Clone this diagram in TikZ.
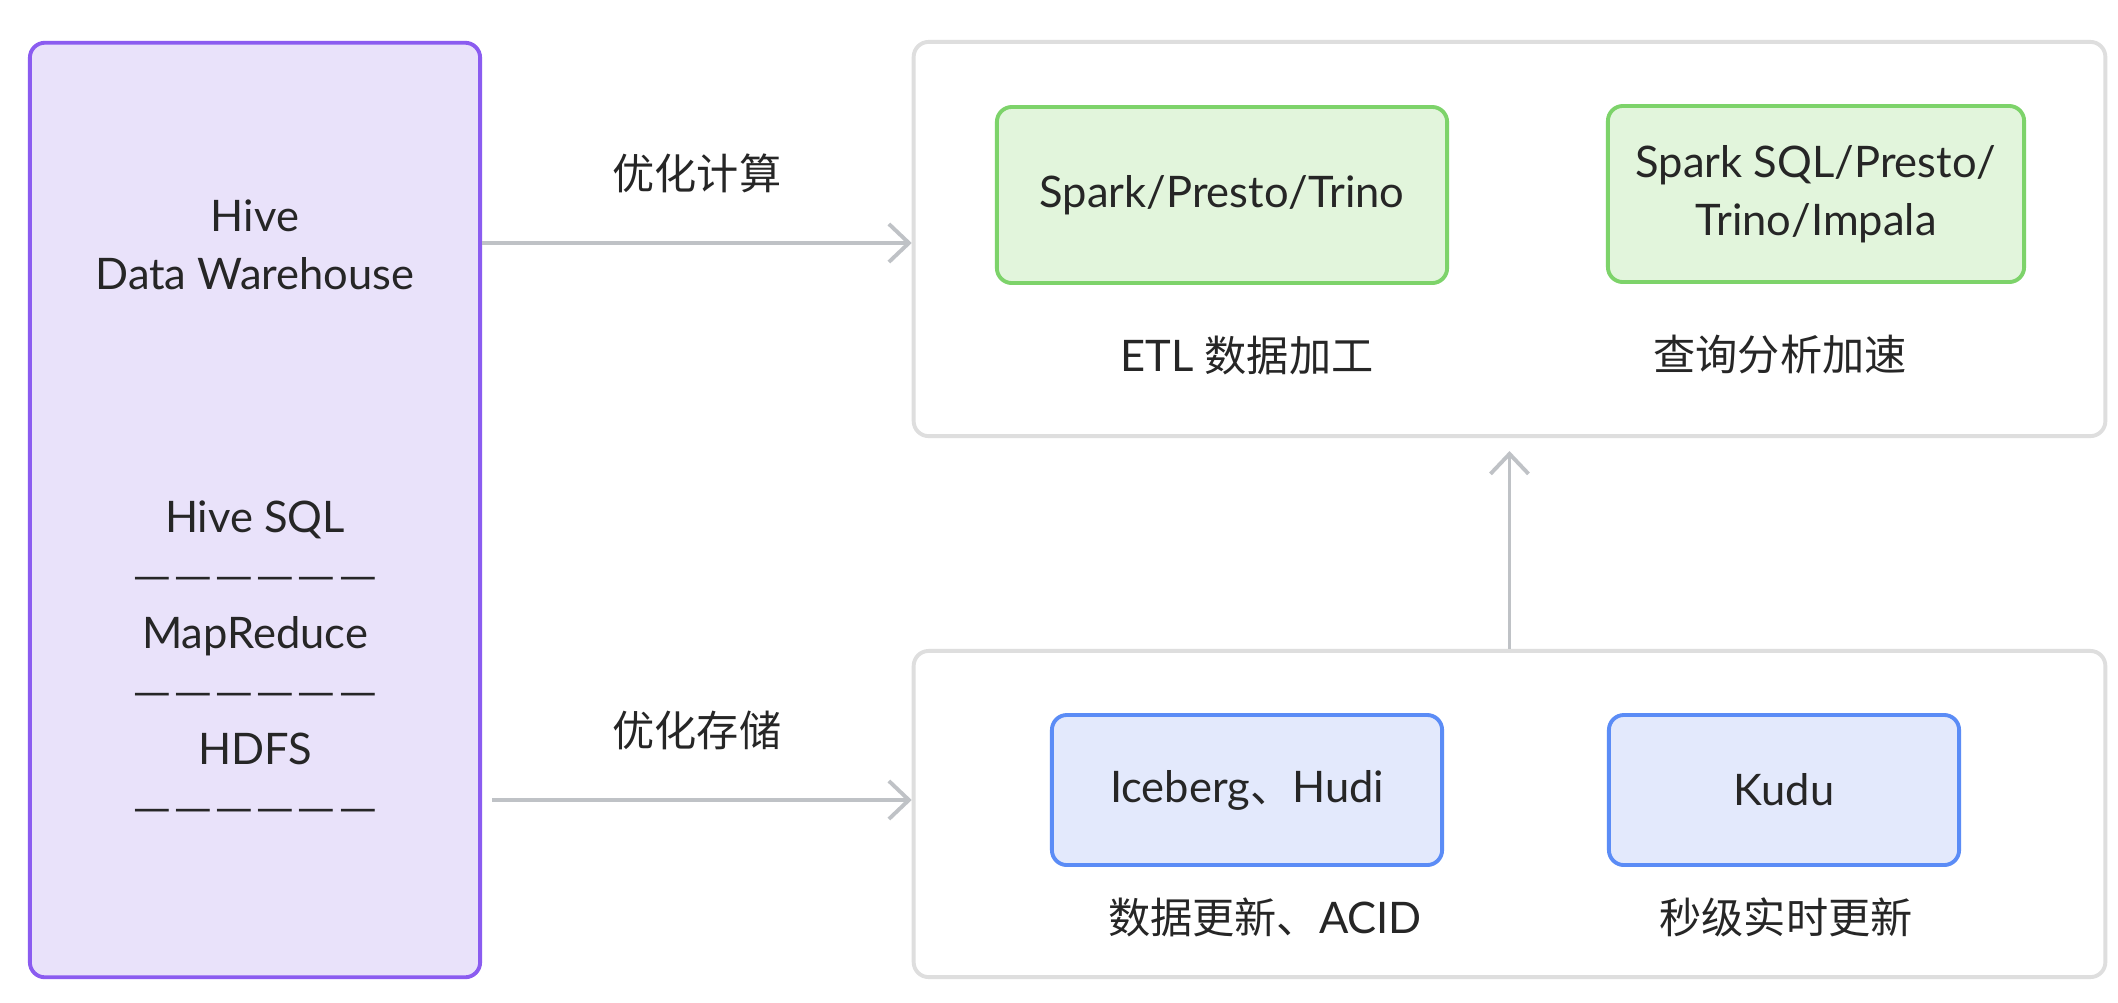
\documentclass[tikz,border=0pt]{standalone}
\usepackage{fontspec}
\setmainfont[Scale=1.03]{Lato}
\newfontfamily\cjk{Noto Sans CJK SC}
\usetikzlibrary{arrows.meta,positioning}

\definecolor{txt}{HTML}{262626}
\definecolor{hiveline}{HTML}{8B5CF0}
\definecolor{hivefill}{HTML}{E9E2FA}
\definecolor{greenline}{HTML}{7DD36A}
\definecolor{greenfill}{HTML}{E2F5DC}
\definecolor{blueline}{HTML}{5B8CF6}
\definecolor{bluefill}{HTML}{E3E9FC}
\definecolor{framegray}{HTML}{DEDEDE}
\definecolor{arrowgray}{HTML}{BFC2C6}

\newcommand{\dashrow}{{\cjk —\hspace{0.035cm}—\hspace{0.035cm}—\hspace{0.035cm}—\hspace{0.035cm}—\hspace{0.035cm}—}}

\begin{document}
\begin{tikzpicture}[
    x=0.01cm, y=-0.01cm,
    every node/.style={font=\fontsize{12}{16.5}\selectfont, text=txt, align=center},
    layer/.style={rectangle, draw=framegray, fill=white, line width=1.1pt, rounded corners=0.15cm, minimum width=11.91cm},
    hivebox/.style={rectangle, draw=hiveline, fill=hivefill, line width=1.1pt, rounded corners=0.15cm, minimum width=4.5cm, minimum height=9.34cm},
    engine/.style={rectangle, draw=greenline, fill=greenfill, line width=1.1pt, rounded corners=0.15cm, minimum width=4.5cm, minimum height=1.76cm},
    store/.style={rectangle, draw=blueline, fill=bluefill, line width=1.1pt, rounded corners=0.15cm, minimum width=3.9cm, minimum height=1.5cm},
    arrow/.style={-{Straight Barb[length=0.2cm, width=0.38cm]}, line width=1.1pt, draw=arrowgray}
]

\fill[white] (0,0) rectangle (2118,1002);
\useasboundingbox (0,0) rectangle (2118,1002);

% Hive side
\node[hivebox] (hive) at (255,510) {};
\node (hivetitle) at (255,245) {Hive\\Data Warehouse};
\node (hivestack) at (255,662) {Hive SQL\\\dashrow\\MapReduce\\\dashrow\\HDFS\\\dashrow};

% Compute layer
\node[layer, minimum height=3.94cm] (compute) at (1509.5,239) {};
\node[engine] (etl) at (1222,195) {Spark/Presto/Trino};
\node[engine, minimum width=4.16cm] (olap) at (1816,194) {Spark SQL/Presto/\\Trino/Impala};
\node (etlnote) at (1247,355) {ETL {\cjk 数据加工}};
\node (olapnote) at (1780,355) {\cjk 查询分析加速};

% Storage layer
\node[layer, minimum height=3.26cm] (storage) at (1509.5,814) {};
\node[store] (lake) at (1247,790) {Iceberg{\cjk 、}Hudi};
\node[store, minimum width=3.5cm] (kudu) at (1784,790) {Kudu};
\node (lakenote) at (1265,917) {{\cjk 数据更新、}ACID};
\node (kudunote) at (1786,917) {\cjk 秒级实时更新};

\draw[arrow] ([yshift=-0.04cm]compute.west -| hive.east) -- node[midway, yshift=0.7cm] (computelabel) {\cjk 优化计算} ([yshift=-0.04cm]compute.west);
\draw[arrow, shorten <=0.1cm] ([yshift=0.14cm]storage.west -| hive.east) -- node[midway, yshift=0.7cm] (storagelabel) {\cjk 优化存储} ([yshift=0.14cm]storage.west);
\draw[arrow, shorten >=0.13cm] (storage) -- (compute);

\end{tikzpicture}
\end{document}
